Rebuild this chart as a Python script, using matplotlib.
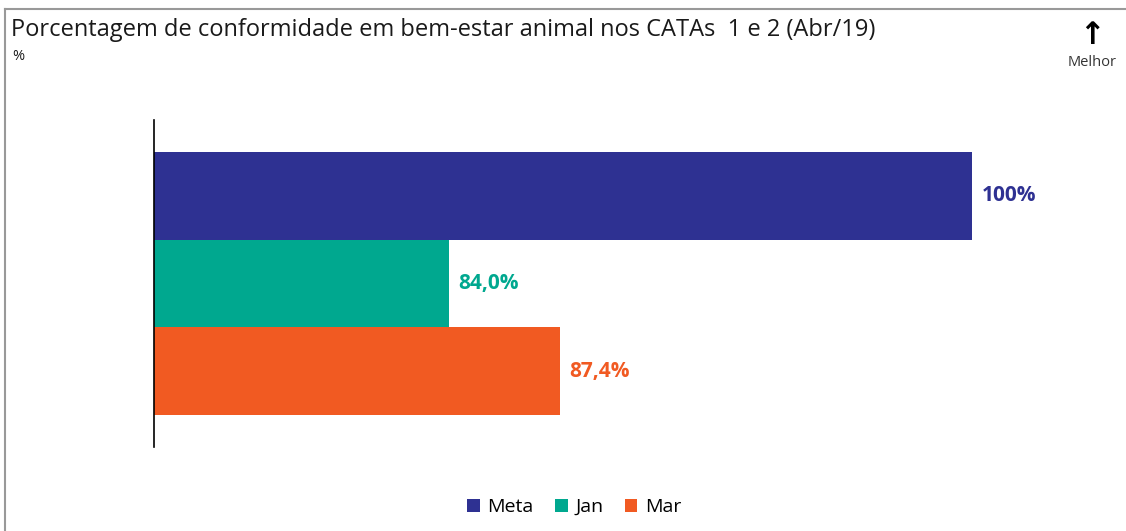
import matplotlib
matplotlib.use("Agg")
import matplotlib.pyplot as plt
from matplotlib.patches import Patch
from matplotlib.lines import Line2D

plt.rcParams['font.family'] = ['Open Sans', 'DejaVu Sans']

series = ['Meta', 'Jan', 'Mar']
values = [100.0, 84.0, 87.4]
labels = ['100%', '84,0%', '87,4%']
colors = ['#2E3192', '#00A88F', '#F15A22']

fig = plt.figure(figsize=(11.26, 5.31), dpi=100)
ax = fig.add_axes([154 / 1126, 1 - 447 / 531, (1100 - 154) / 1126, 327 / 531])

x0 = 75
for i, (v, c, lab) in enumerate(zip(values, colors, labels)):
    ax.barh(i, v - x0, left=x0, height=1.0, color=c)
    ax.text(v + 0.3, i, lab, color=c, fontsize=15, fontweight='bold',
            va='center', ha='left')

ax.set_xlim(x0, 103.9)
ax.set_ylim(2.5 + 0.365, -0.5 - 0.365)
for s in ['top', 'right', 'bottom']:
    ax.spines[s].set_visible(False)
ax.spines['left'].set_color('black')
ax.spines['left'].set_linewidth(1.2)
ax.set_xticks([])
ax.set_yticks([])

fig.text(11 / 1126, 1 - 30 / 531, 'Porcentagem de conformidade em bem-estar animal nos CATAs  1 e 2 (Abr/19)',
         fontsize=17, va='center', ha='left', color='#1a1a1a')
fig.text(12 / 1126, 1 - 56 / 531, '%', fontsize=10.5, va='center', ha='left', color='#1a1a1a')

fig.text(1092 / 1126, 1 - 35 / 531, '\u2191', fontsize=22, fontweight='bold',
         va='center', ha='center', color='black', family='DejaVu Sans')
fig.text(1092 / 1126, 1 - 63 / 531, 'Melhor', fontsize=10.5, va='center', ha='center', color='#333333')

handles = [Patch(facecolor=c, label=s) for s, c in zip(series, colors)]
fig.legend(handles=handles, loc='center', bbox_to_anchor=(0.51, 1 - 507 / 531), ncol=3,
           frameon=False, fontsize=14, handlelength=0.65, handleheight=0.65,
           handletextpad=0.4, columnspacing=1.1)

# frame lines at top and left of the cropped picture
fig.add_artist(Line2D([5 / 1126, 1], [1 - 9 / 531, 1 - 9 / 531], color='#999999', lw=1.5))
fig.add_artist(Line2D([5 / 1126, 5 / 1126], [0, 1 - 9 / 531], color='#999999', lw=1.5))

fig.savefig('out.png', dpi=100)
